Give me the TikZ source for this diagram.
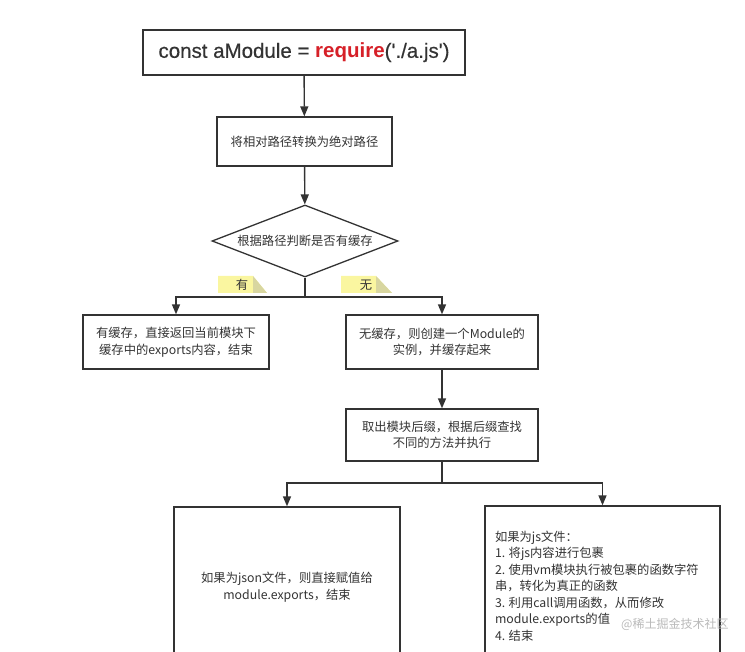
\documentclass[tikz,border=0pt]{standalone}
\usepackage{fontspec}
\setmainfont{Noto Sans CJK SC}
\newfontfamily\codefont[Ligatures=TeXOff, UprightFeatures={FakeBold=0.5}]{Liberation Sans}
\usetikzlibrary{shapes,arrows.meta}
\definecolor{linegray}{RGB}{51,51,51}
\definecolor{textgray}{RGB}{51,51,51}
\definecolor{requirered}{RGB}{214,32,40}
\definecolor{tagyellow}{RGB}{250,246,160}
\definecolor{tagfold}{RGB}{216,214,160}
\definecolor{markgray}{RGB}{185,185,185}

\begin{document}
\begin{tikzpicture}[x=1pt, y=-1pt,
    box/.style={rectangle, draw=linegray, line width=1.3pt, text=textgray, align=center, inner sep=0pt, font=\fontsize{12.3}{16.5}\selectfont},
    decision/.style={diamond, draw=linegray, line width=1.3pt, text=textgray, inner sep=0pt, shape aspect=2.58, font=\fontsize{12.3}{16.5}\selectfont},
    arrow/.style={draw=linegray, line width=1.4pt, -{Triangle[length=10pt,width=8pt]}},
    line/.style={draw=linegray, line width=1.4pt},
    tagtext/.style={text=textgray, inner sep=0pt, font=\fontsize{12.3}{14}\selectfont}
]
\useasboundingbox (0,0) rectangle (745,652);
\clip (0,0) rectangle (745,652);

\node[box, minimum width=322pt, minimum height=45pt, font=\codefont\fontsize{20.5}{24}\selectfont] (require) at (304,52.5) {const aModule = {\bfseries\color{requirered}require}('./a.js')};
\node[box, minimum width=175pt, minimum height=49pt] (abspath) at (304.5,141.5) {将相对路径转换为绝对路径};
\node[decision, minimum width=186pt, minimum height=72pt] (cache) at (305,241) {根据路径判断是否有缓存};
\node[box, minimum width=186pt, minimum height=54pt] (hit) at (176,342) {有缓存，直接返回当前模块下\\缓存中的exports内容，结束};
\node[box, minimum width=192pt, minimum height=54pt] (miss) at (442,342) {无缓存，则创建一个Module的\\实例，并缓存起来};
\node[box, minimum width=192pt, minimum height=52pt] (ext) at (442,435) {取出模块后缀，根据后缀查找\\不同的方法并执行};
\node[box, minimum width=226pt, minimum height=160pt] (jsonbox) at (287,587) {如果为json文件，则直接赋值给\\module.exports，结束};
\node[box, text width=215pt, inner xsep=10pt, align=left, minimum height=160pt] (jsbox) at (602.5,586) {如果为js文件：\\1.\hspace{3.5pt}将js内容进行包裹\\2.\hspace{3.5pt}使用vm模块执行被包裹的函数字符\\串，转化为真正的函数\\3.\hspace{3.5pt}利用call调用函数，从而修改\\module.exports的值\\4.\hspace{3.5pt}结束};

% branch tags
\fill[tagyellow] (218,276) -- (253,276) -- (267,293) -- (218,293) -- cycle;
\fill[tagfold] (253,276) -- (267,293) -- (253,293) -- cycle;
\node[tagtext] (yestag) at (242,285) {有};
\fill[tagyellow] (341,276) -- (376,276) -- (392,293) -- (341,293) -- cycle;
\fill[tagfold] (376,276) -- (392,293) -- (376,293) -- cycle;
\node[tagtext] (notag) at (366,285) {无};

\draw[arrow] (require) -- (abspath);
\draw[arrow] (abspath) -- (cache);
\coordinate (fork1) at (305,297);
\draw[line] (cache) -- (fork1);
\draw[arrow] (fork1) -| (hit);
\draw[arrow] (fork1) -| (miss);
\draw[arrow] (miss) -- (ext);
\coordinate (fork2) at (442,483);
\draw[line] (ext) -- (fork2);
\draw[arrow] (fork2) -| (jsonbox);
\draw[arrow] (fork2) -| (jsbox);

\node[text=markgray, inner sep=0pt, anchor=west, font=\fontsize{12}{14}\selectfont] (watermark) at (621,624) {@稀土掘金技术社区};

\end{tikzpicture}
\end{document}
